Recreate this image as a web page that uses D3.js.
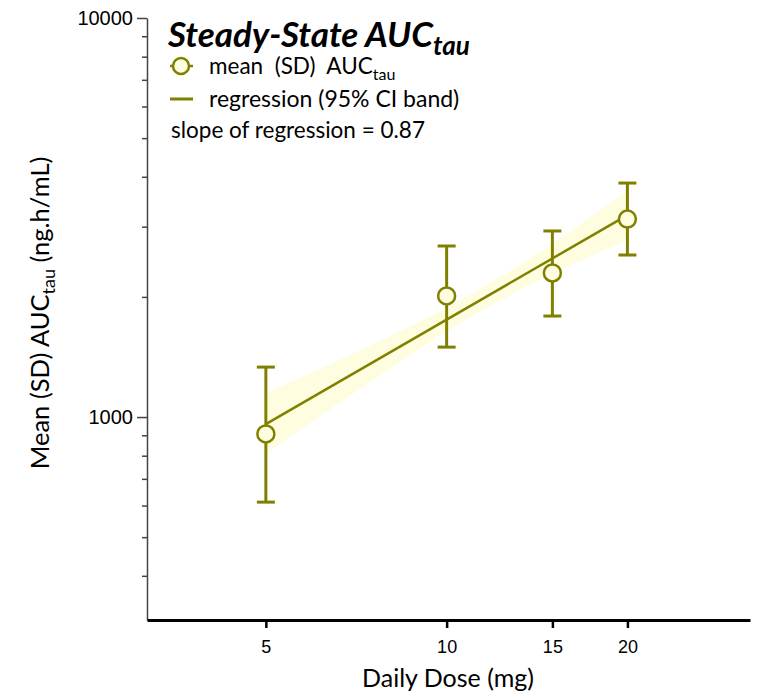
<!DOCTYPE html>
<html lang="en">
<head>
<meta charset="UTF-8">
<title>Steady-State AUCtau</title>
<style>
    body { margin: 0; padding: 0; background: #fff; overflow: hidden; }
    svg { font-family: 'Lato', 'Open Sans', sans-serif; }
    .y.axis path { stroke: #444; stroke-width: 1.5px; }
    .y.axis line { stroke: #444; stroke-width: 1.5px; }
    .x.axis path { stroke: #000; stroke-width: 3px; }
    .x.axis line { stroke: #000; stroke-width: 2.5px; }
    .axis text { font-size: 20px; fill: #000; }
</style>
</head>
<body>
<svg id="chart" width="761" height="696"></svg>
<script src="https://d3js.org/d3.v7.min.js"></script>
<script>
    // data
    const doses = [5, 10, 15, 20];
    const meanAUC = [907, 2011, 2296, 3134];
    const sdLow = [612, 1497, 1791, 2547];
    const sdHigh = [1334, 2683, 2926, 3858];

    const regDose = [5, 20];
    const regAUC = [960, 3207];

    const bandDose = [5, 7.5, 10, 12.5, 15, 17.5, 20];
    const bandLow = [813, 1229, 1638, 1987, 2293, 2541, 2777];
    const bandHigh = [1148, 1518, 1880, 2281, 2721, 3199, 3703];

    const xTicks = [5, 10, 15, 20];
    const yMajor = [1000, 10000];
    const yMinor = [400, 500, 600, 700, 800, 900, 2000, 3000, 4000, 5000, 6000, 7000, 8000, 9000];

    const olive = "#808000";
    const paleFill = "#fffde0";

    const margin = {top: 18, right: 11, bottom: 76, left: 147};
    const width = 761 - margin.left - margin.right;
    const height = 696 - margin.top - margin.bottom;

    const svg = d3.select("#chart")
      .append("g")
        .attr("transform", `translate(${margin.left},${margin.top})`);

    const x = d3.scaleLog().domain([3.17, 32]).range([0, width]);
    const y = d3.scaleLog().domain([310, 10000]).range([height, 0]);

    // CI band
    const area = d3.area()
        .x((d, i) => x(bandDose[i]))
        .y0((d, i) => y(bandLow[i]))
        .y1((d, i) => y(bandHigh[i]))
        .curve(d3.curveMonotoneX);
    svg.append("path")
        .datum(bandDose)
        .attr("d", area)
        .attr("fill", paleFill);

    // regression line
    const line = d3.line()
        .x((d, i) => x(regDose[i]))
        .y((d, i) => y(regAUC[i]));
    svg.append("path")
        .datum(regDose)
        .attr("d", line)
        .attr("fill", "none")
        .attr("stroke", olive)
        .attr("stroke-width", 2.5);

    // axes
    svg.append("g")
        .attr("class", "y axis")
        .call(d3.axisLeft(y).tickValues(yMajor).tickFormat(d3.format("d")).tickSize(10).tickSizeOuter(0))
        .call(g => g.selectAll("text").attr("dx", "-1"));

    svg.append("g")
        .attr("class", "y axis minor")
        .call(d3.axisLeft(y).tickValues(yMinor).tickFormat("").tickSize(5).tickSizeOuter(0))
        .call(g => g.select(".domain").remove());

    svg.append("g")
        .attr("class", "x axis")
        .attr("transform", `translate(0,${height})`)
        .call(d3.axisBottom(x).tickValues(xTicks).tickFormat(d3.format("d")).tickSize(8).tickSizeOuter(0))
        .call(g => g.selectAll("text").attr("dy", "1.2em").style("font-size", "18px"));

    // error bars
    const bars = svg.append("g").selectAll("g")
        .data(doses)
      .enter().append("g");

    bars.append("line")
        .attr("x1", d => x(d)).attr("x2", d => x(d))
        .attr("y1", (d, i) => y(sdLow[i]))
        .attr("y2", (d, i) => y(sdHigh[i]))
        .attr("stroke", olive).attr("stroke-width", 3);

    [sdLow, sdHigh].forEach(arr => {
        bars.append("line")
            .attr("x1", d => x(d) - 9).attr("x2", d => x(d) + 9)
            .attr("y1", (d, i) => y(arr[i]))
            .attr("y2", (d, i) => y(arr[i]))
            .attr("stroke", olive).attr("stroke-width", 3);
    });

    bars.append("circle")
        .attr("cx", d => x(d))
        .attr("cy", (d, i) => y(meanAUC[i]))
        .attr("r", 8.5)
        .attr("fill", paleFill)
        .attr("stroke", olive)
        .attr("stroke-width", 2.5);

    // axis titles
    const root = d3.select("#chart");
    root.append("text")
        .attr("x", 448).attr("y", 687)
        .attr("text-anchor", "middle")
        .style("font-size", "25px")
        .text("Daily Dose (mg)");

    const yt = root.append("text")
        .attr("transform", "translate(49,313) rotate(-90)")
        .attr("text-anchor", "middle")
        .style("font-size", "25.5px");
    yt.append("tspan").text("Mean (SD) AUC");
    yt.append("tspan").attr("dy", 6).style("font-size", "18px").text("tau");
    yt.append("tspan").attr("dy", -6).text(" (ng.h/mL)");

    // title
    const title = root.append("text")
        .attr("x", 168).attr("y", 47)
        .style("font-size", "35px")
        .style("font-weight", "bold")
        .style("font-style", "italic");
    title.append("tspan").text("Steady-State AUC");
    title.append("tspan").attr("dy", 8).style("font-size", "26px").text("tau");

    // legend
    root.append("line")
        .attr("x1", 170).attr("x2", 193).attr("y1", 66).attr("y2", 66)
        .attr("stroke", olive).attr("stroke-width", 2.5);
    root.append("circle")
        .attr("cx", 181).attr("cy", 66).attr("r", 8)
        .attr("fill", paleFill).attr("stroke", olive).attr("stroke-width", 2.5);
    const l1 = root.append("text")
        .attr("x", 209).attr("y", 74)
        .style("font-size", "22.5px")
        .style("white-space", "pre");
    l1.append("tspan").text("mean  (SD)  AUC");
    l1.append("tspan").attr("dy", 6).style("font-size", "16px").text("tau");

    root.append("line")
        .attr("x1", 170).attr("x2", 193).attr("y1", 99).attr("y2", 99)
        .attr("stroke", olive).attr("stroke-width", 3);
    root.append("text")
        .attr("x", 209).attr("y", 107)
        .style("font-size", "23px")
        .text("regression (95% CI band)");

    root.append("text")
        .attr("x", 171).attr("y", 138)
        .style("font-size", "22.5px")
        .text("slope of regression = 0.87");
</script>
</body>
</html>
